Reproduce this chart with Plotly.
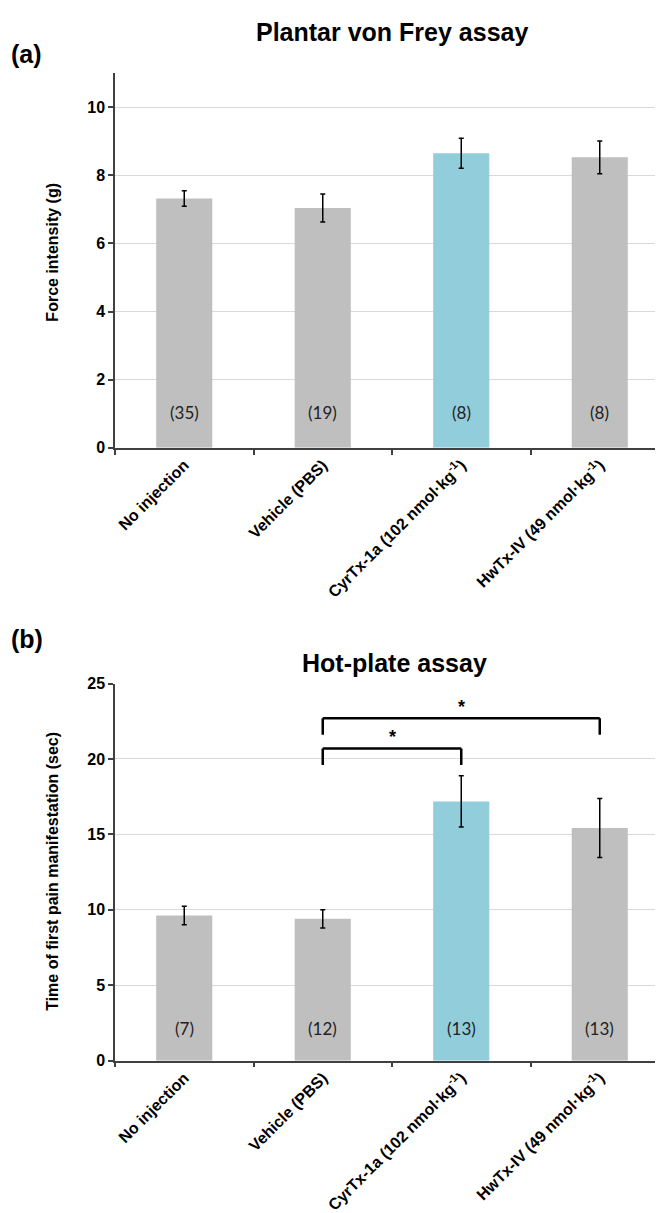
import plotly.graph_objects as go

categories = ["No injection", "Vehicle (PBS)",
              "CyrTx-1a (102 nmol·kg<sup>-1</sup>)",
              "HwTx-IV (49 nmol·kg<sup>-1</sup>)"]
bar_colors = ["#bfbfbf", "#bfbfbf", "#92cddc", "#bfbfbf"]

# Panel (a) Plantar von Frey assay
vf_values = [7.32, 7.04, 8.65, 8.53]
vf_errors = [0.23, 0.41, 0.44, 0.48]
vf_n = ["(35)", "(19)", "(8)", "(8)"]

# Panel (b) Hot-plate assay
hp_values = [9.62, 9.40, 17.18, 15.42]
hp_errors = [0.61, 0.60, 1.70, 1.95]
hp_n = ["(7)", "(12)", "(13)", "(13)"]

# significance brackets for panel (b): (from index, to index, level, label)
hp_comparisons = [(1, 2, 20.7, "*"), (1, 3, 22.7, "*")]
bracket_drop = 1.1

W, H = 663, 1213
def py(px):
    return 1 - px / H

BOLD = "Liberation Sans, Arial, sans-serif"
fig = go.Figure()

fig.add_trace(go.Bar(x=categories, y=vf_values, marker_color=bar_colors,
                     marker_line_width=0,
                     error_y=dict(type="data", array=vf_errors, color="black",
                                  thickness=1.5, width=2.5),
                     xaxis="x", yaxis="y", showlegend=False))
fig.add_trace(go.Bar(x=categories, y=hp_values, marker_color=bar_colors,
                     marker_line_width=0,
                     error_y=dict(type="data", array=hp_errors, color="black",
                                  thickness=1.5, width=2.5),
                     xaxis="x2", yaxis="y2", showlegend=False))

xdom = [107 / W, 661 / W]
axis_common_x = dict(showline=True, linecolor="#404040", linewidth=1.5,
                     ticks="outside", tickson="boundaries", ticklen=5,
                     tickcolor="#404040", tickwidth=1.5, showgrid=False,
                     tickangle=-45,
                     tickfont=dict(family=BOLD, size=16, color="black", weight="bold"),
                     domain=xdom, fixedrange=True)
axis_common_y = dict(showline=True, linecolor="#404040", linewidth=1.5,
                     ticks="outside", ticklen=5, tickcolor="#404040", tickwidth=1.5,
                     showgrid=True, gridcolor="#d9d9d9", gridwidth=1,
                     zeroline=False,
                     tickfont=dict(family=BOLD, size=16, color="black", weight="bold"))

fig.update_layout(
    width=W, height=H, margin=dict(l=0, r=0, t=0, b=0),
    paper_bgcolor="white", plot_bgcolor="white",
    bargap=0.595,
    xaxis=dict(anchor="y", **axis_common_x),
    yaxis=dict(anchor="x", domain=[py(438), py(58)], range=[0, 11], dtick=2,
               **axis_common_y),
    xaxis2=dict(anchor="y2", **axis_common_x),
    yaxis2=dict(anchor="x2", domain=[py(1059.5), py(677)], range=[0, 25], dtick=5,
                **axis_common_y),
)

ann = []
title_font = dict(family=BOLD, size=25, color="black", weight="bold")
ann.append(dict(text="Plantar von Frey assay", x=384 / W, y=py(16), xref="paper", yref="paper",
                xanchor="center", yanchor="middle", showarrow=False, font=title_font))
ann.append(dict(text="Hot-plate assay", x=386 / W, y=py(656), xref="paper", yref="paper",
                xanchor="center", yanchor="middle", showarrow=False, font=title_font))
ann.append(dict(text="(a)", x=1 / W, y=py(39), xref="paper", yref="paper",
                xanchor="left", yanchor="middle", showarrow=False, font=title_font))
ann.append(dict(text="(b)", x=1 / W, y=py(632), xref="paper", yref="paper",
                xanchor="left", yanchor="middle", showarrow=False, font=title_font))
ytitle_font = dict(family=BOLD, size=16, color="black", weight="bold")
ann.append(dict(text="Force intensity (g)", x=45 / W, y=py(240), xref="paper", yref="paper",
                textangle=-90, xanchor="center", yanchor="middle", showarrow=False,
                font=ytitle_font))
ann.append(dict(text="Time of first pain manifestation (sec)", x=45 / W, y=py(868),
                xref="paper", yref="paper", textangle=-90, xanchor="center",
                yanchor="middle", showarrow=False, font=ytitle_font))

n_font = dict(family="Lato, Open Sans, sans-serif", size=17, color="#222222")
for c, t in zip(categories, vf_n):
    ann.append(dict(text=t, x=c, y=1.05, xref="x", yref="y", showarrow=False,
                    xanchor="center", yanchor="middle", font=n_font))
for c, t in zip(categories, hp_n):
    ann.append(dict(text=t, x=c, y=2.15, xref="x2", yref="y2", showarrow=False,
                    xanchor="center", yanchor="middle", font=n_font))

shapes = []
for i, j, lvl, lab in hp_comparisons:
    for (x0, y0, x1, y1) in [(i, lvl - bracket_drop, i, lvl), (i, lvl, j, lvl),
                             (j, lvl, j, lvl - bracket_drop)]:
        shapes.append(dict(type="line", xref="x2", yref="y2", x0=x0, y0=y0, x1=x1, y1=y1,
                           line=dict(color="black", width=2.5)))
    ann.append(dict(text=lab, x=(i + j) / 2, y=lvl + 0.75, xref="x2", yref="y2",
                    showarrow=False, xanchor="center", yanchor="middle",
                    font=dict(family=BOLD, size=18, color="black", weight="bold")))

fig.update_layout(annotations=ann, shapes=shapes)
fig.write_html("out.html")
